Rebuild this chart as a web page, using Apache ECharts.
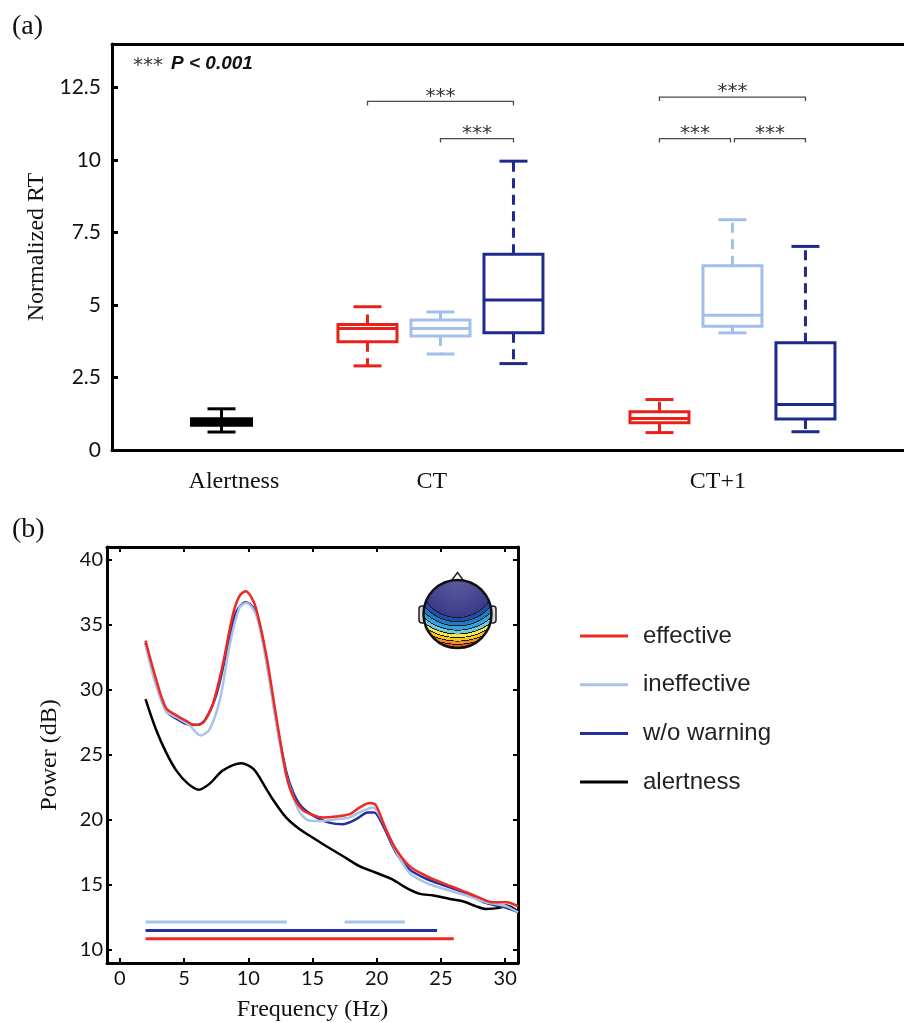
<!DOCTYPE html>
<html>
<head>
<meta charset="utf-8">
<script src="https://cdn.jsdelivr.net/npm/echarts@6/dist/echarts.min.js"></script>
<style>html,body{margin:0;padding:0;background:#fff;}#c{width:904px;height:1023px;}</style>
</head>
<body>
<div id="c"></div>
<script>
// ===== Panel (a): normalized RT box plots =====
const groupLabels = ['Alertness', 'CT', 'CT+1'];
const groupLabelAt = [0.17, 2.88, 6.8];
const boxSlot = [0, 2, 3, 4, 6, 7, 8];
const boxCondition = ['alertness', 'effective', 'ineffective', 'w/o warning', 'effective', 'ineffective', 'w/o warning'];
const boxMin    = [0.62, 2.90, 3.31, 2.98, 0.60, 4.04, 0.63];
const boxQ1     = [0.85, 3.73, 3.93, 4.04, 0.94, 4.27, 1.07];
const boxMedian = [0.97, 4.19, 4.19, 5.17, 1.09, 4.65, 1.57];
const boxQ3     = [1.08, 4.33, 4.48, 6.75, 1.32, 6.35, 3.70];
const boxMax    = [1.42, 4.94, 4.76, 9.96, 1.74, 7.94, 7.02];
const rtTicks = [0, 2.5, 5, 7.5, 10, 12.5];
// significance comparisons (box index A vs box index B, bracket height in RT units)
const compA = [1, 2, 4, 4, 5];
const compB = [3, 3, 6, 5, 6];
const compLevel = [12.02, 10.74, 12.17, 10.74, 10.74];
const compText = ['***', '***', '***', '***', '***'];

// ===== Panel (b): power spectra =====
const freqTicks = [0, 5, 10, 15, 20, 25, 30];
const powerTicks = [10, 15, 20, 25, 30, 35, 40];
const effectiveFreq  = [2, 2.8, 3.6, 4.4, 5.2, 5.8, 6.5, 7.25, 8.0, 8.8, 9.3, 9.8, 10.2, 10.6, 11.4, 12.2, 12.95, 13.45, 14.2, 15.0, 15.8, 16.8, 17.9, 18.65, 19.45, 19.95, 20.7, 21.5, 22.55, 23.85, 25.1, 26.45, 27.75, 29.0, 30.1, 31];
const effectivePower = [33.8, 30.9, 28.6, 28.05, 27.6, 27.3, 27.5, 28.95, 31.9, 35.8, 37.2, 37.6, 37.2, 36.3, 32.7, 27.8, 23.5, 21.9, 20.8, 20.4, 20.2, 20.27, 20.45, 20.95, 21.3, 21.1, 19.3, 17.75, 16.45, 15.7, 15.17, 14.65, 14.13, 13.67, 13.67, 13.36];
const ineffectiveFreq  = [2, 2.8, 3.6, 4.4, 5.4, 6.3, 7.0, 7.8, 8.55, 9.3, 9.85, 10.6, 11.4, 12.2, 12.96, 13.5, 14.0, 14.8, 15.8, 16.8, 17.9, 18.9, 19.7, 20.5, 21.5, 22.55, 23.85, 25.4, 27.0, 28.5, 30.1, 31];
const ineffectivePower = [33.45, 30.4, 28.4, 27.9, 27.3, 26.5, 27.0, 29.3, 33.45, 36.3, 36.7, 35.8, 32.2, 27.3, 23.4, 21.8, 20.6, 19.95, 19.93, 20.06, 20.2, 20.7, 20.97, 19.8, 17.6, 15.94, 15.17, 14.65, 14.19, 13.67, 13.36, 12.9];
const woWarningFreq  = [2, 2.8, 3.6, 4.4, 5.4, 6.1, 6.7, 7.5, 8.3, 9.06, 9.8, 10.6, 11.4, 12.2, 12.96, 13.5, 14.2, 15.3, 16.3, 17.35, 18.4, 19.3, 19.8, 20.5, 21.5, 22.55, 23.85, 25.4, 27.0, 28.5, 30.1, 31];
const woWarningPower = [33.6, 30.6, 28.4, 27.8, 27.33, 27.33, 27.8, 29.6, 32.9, 36.0, 36.75, 36.0, 32.4, 27.5, 23.7, 22.1, 20.97, 20.2, 19.8, 19.68, 20.06, 20.58, 20.58, 19.54, 17.5, 16.2, 15.48, 14.91, 14.34, 13.62, 13.24, 12.9];
const alertnessFreq  = [2, 2.8, 3.6, 4.4, 5.3, 6.15, 7.0, 8.0, 9.45, 10.4, 11.4, 11.9, 12.94, 13.98, 15.0, 16.05, 17.35, 18.65, 19.95, 21.25, 22.3, 23.3, 24.4, 25.7, 26.7, 27.75, 28.5, 29.56, 30.1, 31];
const alertnessPower = [29.3, 27.0, 25.2, 23.8, 22.8, 22.33, 22.8, 23.8, 24.37, 23.93, 22.4, 21.6, 20.2, 19.3, 18.65, 18.0, 17.23, 16.45, 15.94, 15.42, 14.78, 14.34, 14.19, 13.93, 13.75, 13.36, 13.16, 13.24, 13.42, 12.97];
// significant frequency ranges (start, end) and the level they are drawn at
const sigIneffectiveStart = [2, 17.5];
const sigIneffectiveEnd   = [13, 22.2];
const sigIneffectiveLevel = 12.16;
const sigWoWarningStart = [2];
const sigWoWarningEnd   = [24.7];
const sigWoWarningLevel = 11.5;
const sigEffectiveStart = [2];
const sigEffectiveEnd   = [26];
const sigEffectiveLevel = 10.87;

// ===== styles =====
const boxColor = { 'alertness': '#000000', 'effective': '#e8221b', 'ineffective': '#a3bfe7', 'w/o warning': '#1e2a8d' };
const lineColor = { 'alertness': '#000000', 'effective': '#ee2a22', 'ineffective': '#a8c3ea', 'w/o warning': '#25309a' };
const SERIF = 'Liberation Serif';
const SANS = 'Lato';

const zip = (a, b) => a.map((v, i) => [v, b[i]]);

const boxData = boxSlot.map((s, i) => [s, boxMin[i], boxQ1[i], boxMedian[i], boxQ3[i], boxMax[i]]);
const compData = compA.map((a, k) => [boxSlot[a], boxSlot[compB[k]], compLevel[k]]);

function renderBox(params, api) {
  const i = params.dataIndex;
  const cond = boxCondition[i];
  const color = boxColor[cond];
  const x = api.value(0);
  const pMin = api.coord([x, api.value(1)]);
  const pQ1 = api.coord([x, api.value(2)]);
  const pMed = api.coord([x, api.value(3)]);
  const pQ3 = api.coord([x, api.value(4)]);
  const pMax = api.coord([x, api.value(5)]);
  const cx = pMin[0];
  const isAlert = cond === 'alertness';
  const hw = isAlert ? 30 : 29.5;
  const capHw = 14;
  const lw = 3;
  const dash = isAlert ? null : [10, 6.5];
  return {
    type: 'group',
    children: [
      { type: 'line', shape: { x1: cx, y1: pQ3[1], x2: cx, y2: pMax[1] }, style: { stroke: color, lineWidth: lw, lineDash: dash } },
      { type: 'line', shape: { x1: cx, y1: pQ1[1], x2: cx, y2: pMin[1] }, style: { stroke: color, lineWidth: lw, lineDash: dash } },
      { type: 'line', shape: { x1: cx - capHw, y1: pMax[1], x2: cx + capHw, y2: pMax[1] }, style: { stroke: color, lineWidth: lw } },
      { type: 'line', shape: { x1: cx - capHw, y1: pMin[1], x2: cx + capHw, y2: pMin[1] }, style: { stroke: color, lineWidth: lw } },
      { type: 'rect', shape: { x: cx - hw, y: pQ3[1], width: 2 * hw, height: pQ1[1] - pQ3[1] }, style: { stroke: color, lineWidth: lw, fill: isAlert ? color : null } },
      { type: 'line', shape: { x1: cx - hw, y1: pMed[1], x2: cx + hw, y2: pMed[1] }, style: { stroke: color, lineWidth: lw } }
    ]
  };
}

function renderBracket(params, api) {
  const k = params.dataIndex;
  const p1 = api.coord([api.value(0), api.value(2)]);
  const p2 = api.coord([api.value(1), api.value(2)]);
  let x1 = p1[0], x2 = p2[0];
  const y = p1[1];
  // leave a small gap where two brackets at the same level meet
  for (let j = 0; j < compA.length; j++) {
    if (j === k || compLevel[j] !== compLevel[k]) continue;
    if (compB[j] === compA[k]) x1 += 2;
    if (compA[j] === compB[k]) x2 -= 2;
  }
  return {
    type: 'group',
    children: [
      { type: 'polyline', shape: { points: [[x1, y + 4], [x1, y], [x2, y], [x2, y + 4]] }, style: { stroke: '#4a4a4a', lineWidth: 1.3, fill: null } },
      { type: 'text', style: { text: compText[k], x: (x1 + x2) / 2, y: y - 5, align: 'center', verticalAlign: 'middle', fontFamily: 'DejaVu Sans', fontSize: 20, fill: '#333' } }
    ]
  };
}

function spectrum(name, f, p) {
  return {
    name: name, type: 'line', xAxisIndex: 2, yAxisIndex: 1, data: zip(f, p),
    smooth: 0.3, symbol: 'none', showSymbol: false, lineStyle: { width: 2.5, color: lineColor[name] },
    itemStyle: { color: lineColor[name] }, silent: true, z: 3
  };
}
function sigBars(key, starts, ends, level) {
  return starts.map((s, i) => ({
    name: 'sig-' + key + '-' + i, type: 'line', xAxisIndex: 2, yAxisIndex: 1,
    data: [[s, level], [ends[i], level]], symbol: 'none', silent: true,
    lineStyle: { width: 3, color: lineColor[key] }, z: 2
  }));
}

// radial gradient for the scalp topography inset
function topoGradient() {
  const stops = [{ offset: 0, color: '#5c5c9e' }, { offset: 0.3, color: '#4b4b94' }];
  const bounds = [0.55, 0.61, 0.67, 0.73, 0.785, 0.835, 0.885, 0.93, 0.97];
  const fills = ['#3a3a8a', '#1f4faa', '#2479c4', '#2ea3dc', '#71c9e0', '#f2e84a', '#f7c616', '#f29018', '#e8561b', '#d3261c'];
  for (let b = 0; b < bounds.length; b++) {
    const o = bounds[b];
    stops.push({ offset: o - 0.008, color: fills[b] });
    stops.push({ offset: o - 0.007, color: '#1a1a1a' });
    stops.push({ offset: o + 0.005, color: '#1a1a1a' });
    stops.push({ offset: o + 0.006, color: fills[b + 1] });
  }
  stops.push({ offset: 1, color: fills[fills.length - 1] });
  return { type: 'radial', x: 0.5, y: 0.0, r: 1.0, colorStops: stops };
}

const chart = echarts.init(document.getElementById('c'), null, { renderer: 'canvas' });
const axisLineStyle = { show: true, onZero: false, lineStyle: { color: '#000', width: 3 } };
chart.setOption({
  animation: false,
  backgroundColor: '#fff',
  grid: [
    { left: 112, top: 44, right: 0, height: 406 },
    { left: 107, top: 547, width: 411, height: 416 }
  ],
  xAxis: [
    { gridIndex: 0, type: 'value', min: -1.5, max: 9.35, position: 'bottom',
      axisLine: axisLineStyle, axisTick: { show: false }, splitLine: { show: false },
      axisLabel: { customValues: groupLabelAt, margin: 20, fontFamily: SERIF, fontSize: 24, color: '#111',
        formatter: v => { let b = 0; groupLabelAt.forEach((g, i) => { if (Math.abs(g - v) < Math.abs(groupLabelAt[b] - v)) b = i; }); return groupLabels[b]; } } },
    { gridIndex: 0, type: 'value', min: -1.5, max: 9.35, position: 'top',
      axisLine: axisLineStyle, axisTick: { show: false }, axisLabel: { show: false }, splitLine: { show: false } },
    { gridIndex: 1, type: 'value', min: -1, max: 31, position: 'bottom',
      name: 'Frequency (Hz)', nameLocation: 'middle', nameGap: 35, nameTextStyle: { fontFamily: SERIF, fontSize: 24, color: '#111' },
      axisLine: axisLineStyle, splitLine: { show: false },
      axisTick: { inside: true, length: 5, customValues: freqTicks, lineStyle: { width: 2, color: '#000' } },
      axisLabel: { customValues: freqTicks, margin: 6, fontFamily: SANS, fontSize: 20, color: '#111' } },
    { gridIndex: 1, type: 'value', min: -1, max: 31, position: 'top',
      axisLine: axisLineStyle, splitLine: { show: false }, axisLabel: { show: false },
      axisTick: { inside: true, length: 5, customValues: freqTicks, lineStyle: { width: 2, color: '#000' } } }
  ],
  yAxis: [
    { gridIndex: 0, type: 'value', min: 0, max: 14, position: 'left',
      name: 'Normalized RT', nameLocation: 'middle', nameGap: 49, nameTextStyle: { fontFamily: SERIF, fontSize: 24, color: '#111' },
      axisLine: axisLineStyle, splitLine: { show: false },
      axisTick: { inside: true, length: 6, customValues: rtTicks, lineStyle: { width: 3, color: '#000' } },
      axisLabel: { customValues: rtTicks, margin: 11, fontFamily: SANS, fontSize: 21, color: '#111' } },
    { gridIndex: 1, type: 'value', min: 9, max: 41, position: 'left',
      name: 'Power (dB)', nameLocation: 'middle', nameGap: 45, nameTextStyle: { fontFamily: SERIF, fontSize: 24, color: '#111' },
      axisLine: axisLineStyle, splitLine: { show: false },
      axisTick: { inside: true, length: 5, customValues: powerTicks, lineStyle: { width: 2, color: '#000' } },
      axisLabel: { customValues: powerTicks, margin: 4, fontFamily: SANS, fontSize: 20, color: '#111' } },
    { gridIndex: 1, type: 'value', min: 9, max: 41, position: 'right',
      axisLine: axisLineStyle, splitLine: { show: false }, axisLabel: { show: false },
      axisTick: { inside: true, length: 5, customValues: powerTicks, lineStyle: { width: 2, color: '#000' } } }
  ],
  legend: {
    data: ['effective', 'ineffective', 'w/o warning', 'alertness'],
    orient: 'vertical', left: 580, top: 624, padding: 0, icon: 'rect',
    itemWidth: 48, itemHeight: 3, itemGap: 24.7,
    selectedMode: false,
    textStyle: { fontFamily: 'Liberation Sans', fontSize: 24, color: '#222', padding: [0, 0, 0, 10] }
  },
  series: [
    { name: 'RT boxes', type: 'custom', xAxisIndex: 0, yAxisIndex: 0, data: boxData,
      encode: { x: 0, y: [1, 2, 3, 4, 5] }, renderItem: renderBox, silent: true, z: 3 },
    { name: 'comparisons', type: 'custom', xAxisIndex: 0, yAxisIndex: 0, data: compData,
      encode: { x: [0, 1], y: 2 }, renderItem: renderBracket, silent: true, z: 3 },
    spectrum('alertness', alertnessFreq, alertnessPower),
    spectrum('w/o warning', woWarningFreq, woWarningPower),
    spectrum('ineffective', ineffectiveFreq, ineffectivePower),
    spectrum('effective', effectiveFreq, effectivePower),
    ...sigBars('ineffective', sigIneffectiveStart, sigIneffectiveEnd, sigIneffectiveLevel),
    ...sigBars('w/o warning', sigWoWarningStart, sigWoWarningEnd, sigWoWarningLevel),
    ...sigBars('effective', sigEffectiveStart, sigEffectiveEnd, sigEffectiveLevel)
  ],
  graphic: [
    { type: 'text', x: 12, y: 27, style: { text: '(a)', fontFamily: SERIF, fontSize: 28, fill: '#111', verticalAlign: 'middle' } },
    { type: 'text', x: 12, y: 530, style: { text: '(b)', fontFamily: SERIF, fontSize: 28, fill: '#111', verticalAlign: 'middle' } },
    { type: 'text', x: 133, y: 66, style: { text: '***', fontFamily: 'DejaVu Sans', fontSize: 20, fill: '#333', verticalAlign: 'middle' } },
    { type: 'text', x: 171, y: 64, style: { text: 'P < 0.001', fontFamily: 'Liberation Sans', fontStyle: 'italic', fontWeight: 'bold', fontSize: 19, fill: '#111', verticalAlign: 'middle' } },
    // scalp topography inset
    { type: 'rect', z: 10, shape: { x: 419, y: 606, width: 7, height: 17, r: 3 }, style: { fill: '#d8d8d8', stroke: '#222', lineWidth: 1.5 } },
    { type: 'rect', z: 10, shape: { x: 489, y: 606, width: 7, height: 17, r: 3 }, style: { fill: '#d8d8d8', stroke: '#222', lineWidth: 1.5 } },
    { type: 'polygon', z: 10, shape: { points: [[450.5, 582], [457.5, 572.5], [464.5, 582]] }, style: { fill: '#fff', stroke: '#222', lineWidth: 1.5 } },
    { type: 'circle', z: 11, shape: { cx: 457.5, cy: 614, r: 34 }, style: { fill: topoGradient(), stroke: '#111', lineWidth: 2.5 } }
  ]
});
</script>
</body>
</html>
